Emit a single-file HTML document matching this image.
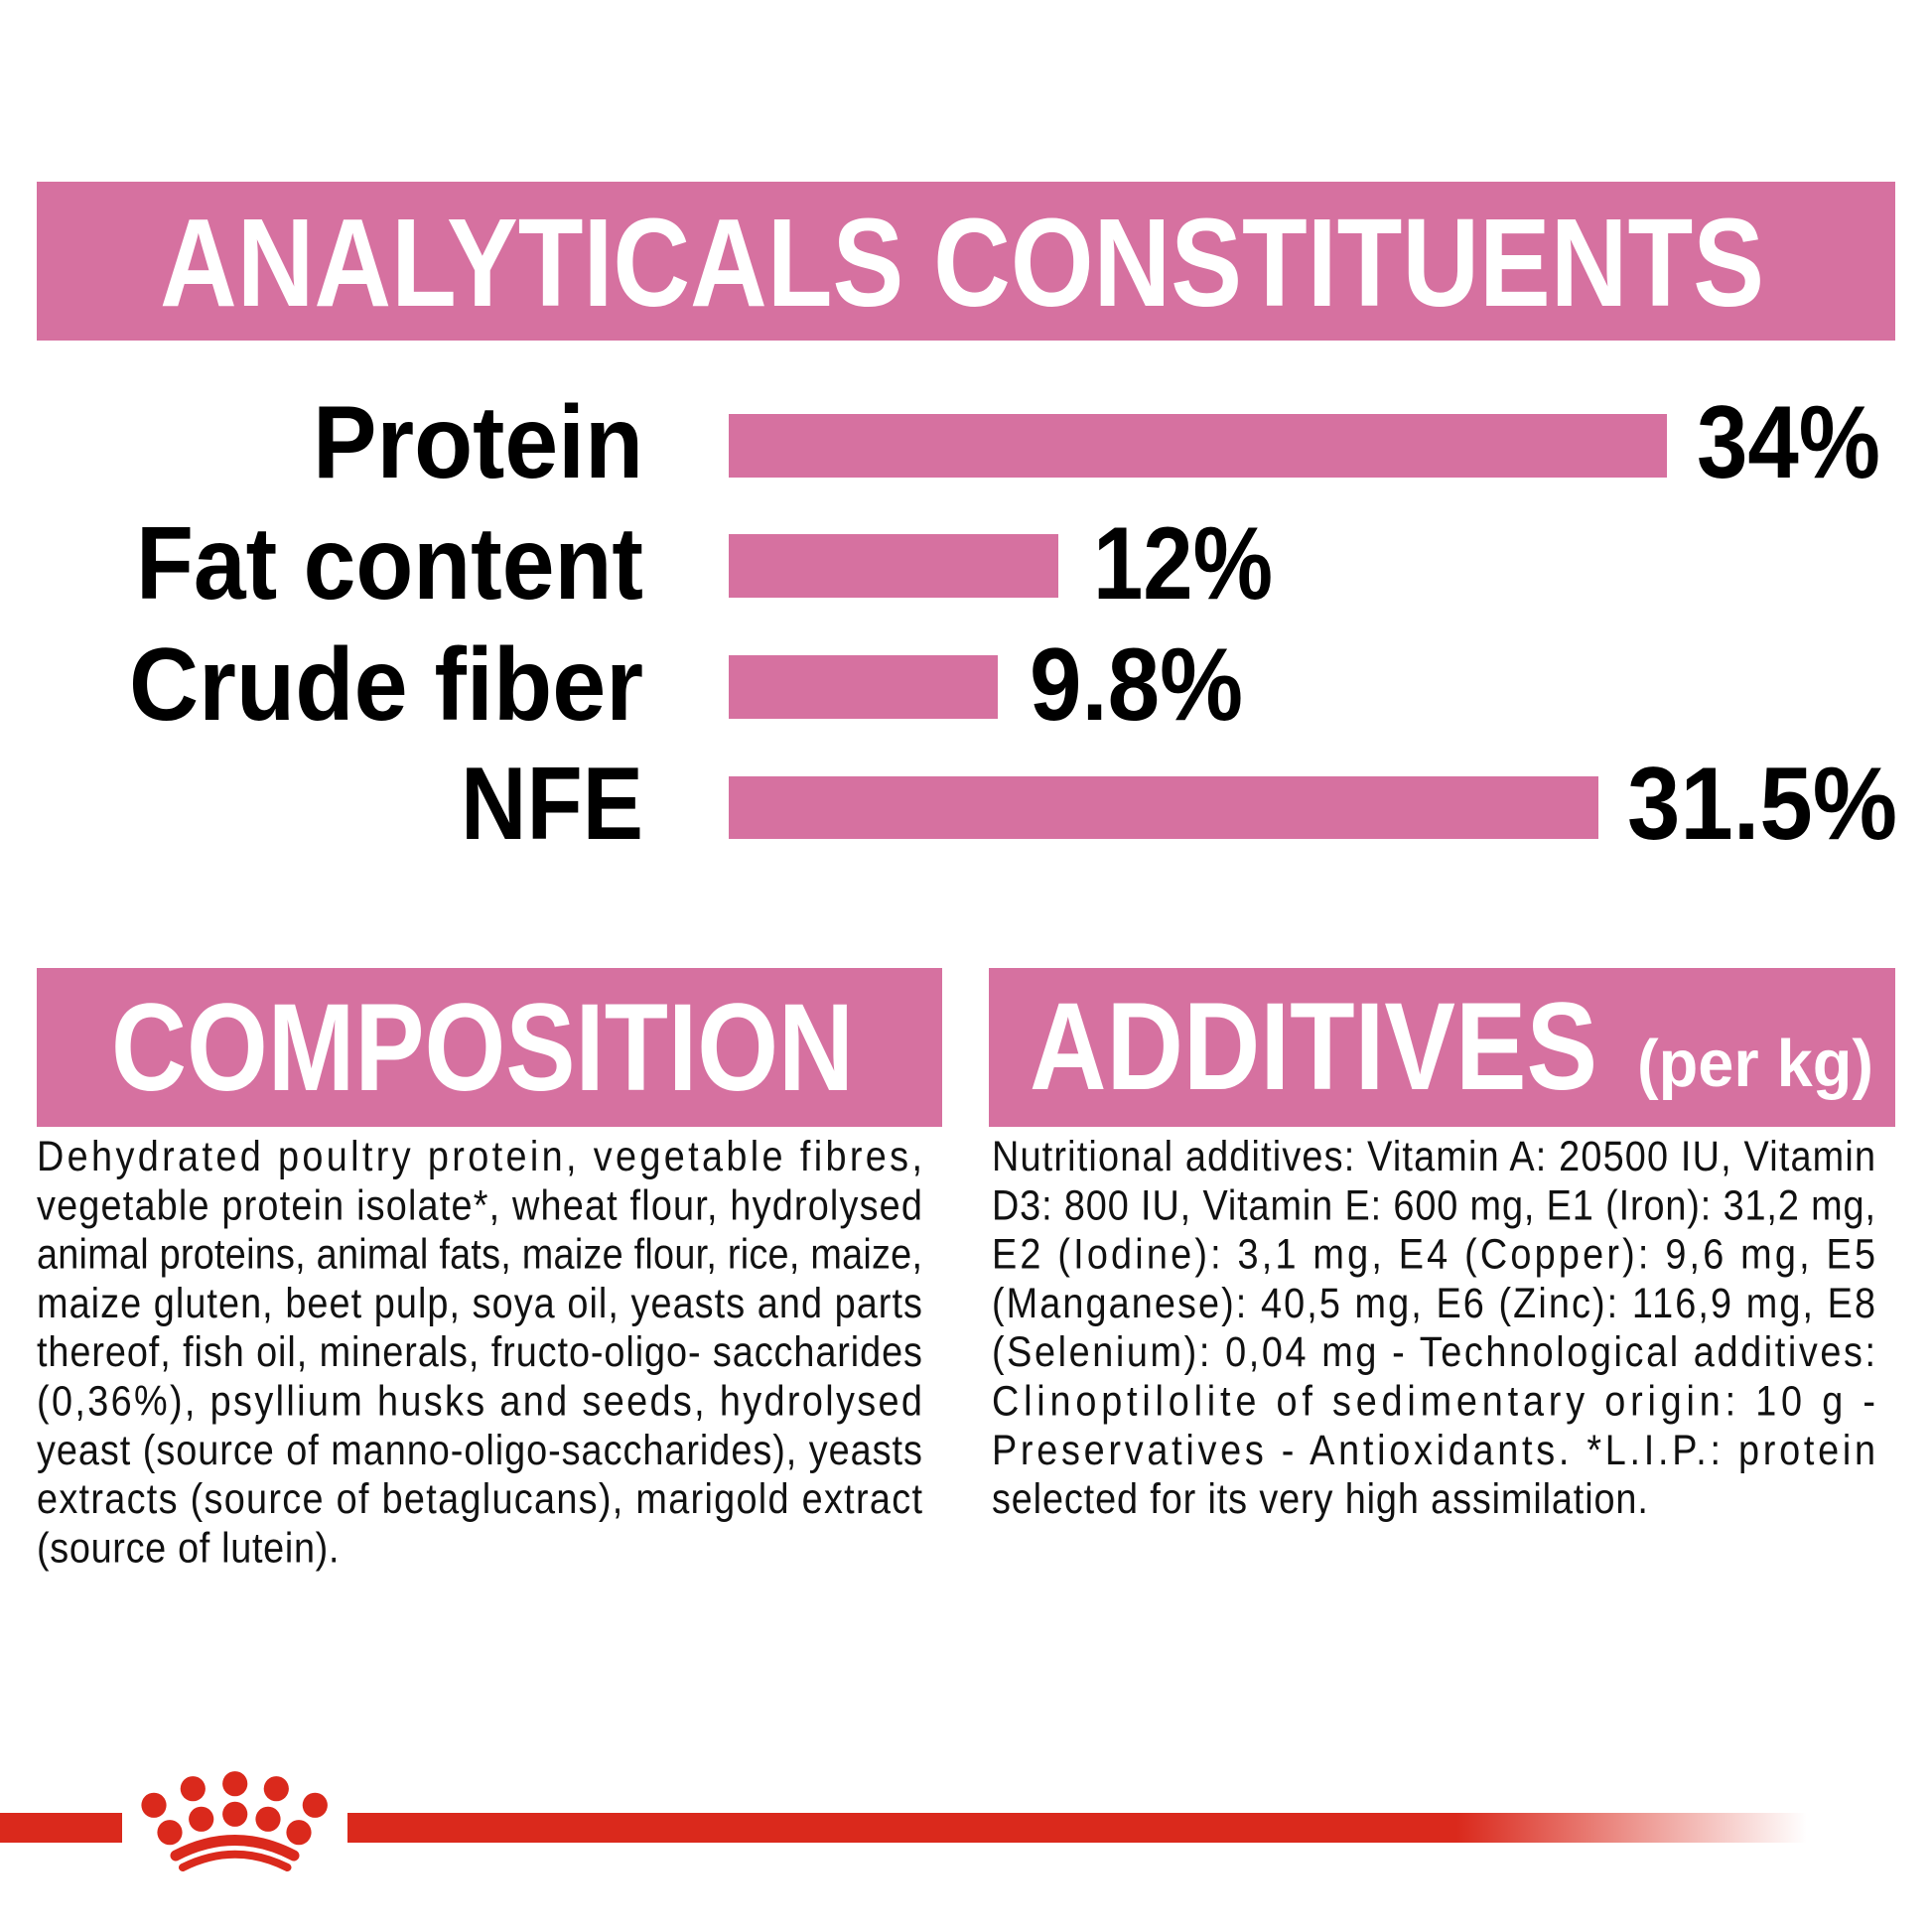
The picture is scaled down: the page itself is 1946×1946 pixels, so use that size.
<!DOCTYPE html>
<html>
<head>
<meta charset="utf-8">
<style>
  html, body { margin: 0; padding: 0; background: #ffffff; }
  body { width: 1946px; height: 1946px; overflow: hidden; }
  svg { display: block; }
  text { font-family: "Liberation Sans", "DejaVu Sans", sans-serif; }
</style>
</head>
<body>
<svg width="1946" height="1946" viewBox="0 0 1946 1946" xmlns="http://www.w3.org/2000/svg">
  <defs>
    <linearGradient id="fade" gradientUnits="userSpaceOnUse" x1="350" y1="0" x2="1820" y2="0">
      <stop offset="0" stop-color="#da291c" stop-opacity="1"/>
      <stop offset="0.76" stop-color="#da291c" stop-opacity="1"/>
      <stop offset="1" stop-color="#da291c" stop-opacity="0"/>
    </linearGradient>
  </defs>
  <rect x="0" y="0" width="1946" height="1946" fill="#ffffff"/>

  <!-- Main header -->
  <rect x="37" y="183" width="1872" height="160" fill="#d671a0"/>
  <text x="161" y="308" font-weight="700" font-size="126" fill="#ffffff" textLength="1616" lengthAdjust="spacingAndGlyphs">ANALYTICALS CONSTITUENTS</text>

  <!-- Labels -->
  <g font-weight="700" font-size="104" fill="#000000">
    <text x="315" y="481" textLength="333" lengthAdjust="spacingAndGlyphs">Protein</text>
    <text x="137" y="603" textLength="511" lengthAdjust="spacingAndGlyphs">Fat content</text>
    <text x="130" y="725" textLength="518" lengthAdjust="spacingAndGlyphs">Crude fiber</text>
    <text x="464" y="845" textLength="184" lengthAdjust="spacingAndGlyphs">NFE</text>
  </g>

  <!-- Bars -->
  <g fill="#d671a0">
    <rect x="734" y="417" width="945" height="64"/>
    <rect x="734" y="538" width="332" height="64"/>
    <rect x="734" y="660" width="271" height="64"/>
    <rect x="734" y="782" width="876" height="63"/>
  </g>

  <!-- Values -->
  <g font-weight="700" font-size="104" fill="#000000">
    <text x="1709" y="481" textLength="185" lengthAdjust="spacingAndGlyphs">34%</text>
    <text x="1101" y="603" textLength="181" lengthAdjust="spacingAndGlyphs">12%</text>
    <text x="1037" y="725" textLength="215" lengthAdjust="spacingAndGlyphs">9.8%</text>
    <text x="1639" y="845" textLength="272" lengthAdjust="spacingAndGlyphs">31.5%</text>
  </g>

  <!-- Section headers -->
  <rect x="37" y="975" width="912" height="160" fill="#d671a0"/>
  <rect x="996" y="975" width="913" height="160" fill="#d671a0"/>
  <text x="112" y="1098" font-weight="700" font-size="125" fill="#ffffff" textLength="748" lengthAdjust="spacingAndGlyphs">COMPOSITION</text>
  <text x="1037" y="1097" font-weight="700" font-size="125" fill="#ffffff" textLength="572" lengthAdjust="spacingAndGlyphs">ADDITIVES</text>
  <text x="1649" y="1094" font-weight="700" font-size="67" fill="#ffffff" textLength="238" lengthAdjust="spacingAndGlyphs">(per kg)</text>

  <!-- Body text -->
  <g transform="scale(0.88,1)" font-size="43" fill="#111111">
    <text x="42.05" y="1179" textLength="1013.6" lengthAdjust="spacing">Dehydrated poultry protein, vegetable fibres,</text>
    <text x="42.05" y="1228.3" textLength="1013.6" lengthAdjust="spacing">vegetable protein isolate*, wheat flour, hydrolysed</text>
    <text x="42.05" y="1277.6" textLength="1013.6" lengthAdjust="spacing">animal proteins, animal fats, maize flour, rice, maize,</text>
    <text x="42.05" y="1326.9" textLength="1013.6" lengthAdjust="spacing">maize gluten, beet pulp, soya oil, yeasts and parts</text>
    <text x="42.05" y="1376.2" textLength="1013.6" lengthAdjust="spacing">thereof, fish oil, minerals, fructo-oligo- saccharides</text>
    <text x="42.05" y="1425.5" textLength="1013.6" lengthAdjust="spacing">(0,36%), psyllium husks and seeds, hydrolysed</text>
    <text x="42.05" y="1474.8" textLength="1013.6" lengthAdjust="spacing">yeast (source of manno-oligo-saccharides), yeasts</text>
    <text x="42.05" y="1524.1" textLength="1013.6" lengthAdjust="spacing">extracts (source of betaglucans), marigold extract</text>
    <text x="42.05" y="1573.4" textLength="346" lengthAdjust="spacing">(source of lutein).</text>

    <text x="1135.2" y="1179" textLength="1011.4" lengthAdjust="spacing">Nutritional additives: Vitamin A: 20500 IU, Vitamin</text>
    <text x="1135.2" y="1228.3" textLength="1011.4" lengthAdjust="spacing">D3: 800 IU, Vitamin E: 600 mg, E1 (Iron): 31,2 mg,</text>
    <text x="1135.2" y="1277.6" textLength="1011.4" lengthAdjust="spacing">E2 (Iodine): 3,1 mg, E4 (Copper): 9,6 mg, E5</text>
    <text x="1135.2" y="1326.9" textLength="1011.4" lengthAdjust="spacing">(Manganese): 40,5 mg, E6 (Zinc): 116,9 mg, E8</text>
    <text x="1135.2" y="1376.2" textLength="1011.4" lengthAdjust="spacing">(Selenium): 0,04 mg - Technological additives:</text>
    <text x="1135.2" y="1425.5" textLength="1011.4" lengthAdjust="spacing">Clinoptilolite of sedimentary origin: 10 g -</text>
    <text x="1135.2" y="1474.8" textLength="1011.4" lengthAdjust="spacing">Preservatives - Antioxidants. *L.I.P.: protein</text>
    <text x="1135.2" y="1524.1" textLength="751" lengthAdjust="spacing">selected for its very high assimilation.</text>
  </g>

  <!-- Footer band -->
  <rect x="0" y="1826" width="123" height="30" fill="#da291c"/>
  <rect x="350" y="1826" width="1470" height="30" fill="url(#fade)"/>

  <!-- Crown logo -->
  <g fill="#da291c">
    <circle cx="236.7" cy="1796.7" r="12.6"/>
    <circle cx="194.3" cy="1801.7" r="12.6"/>
    <circle cx="278.3" cy="1801.7" r="12.6"/>
    <circle cx="155" cy="1818.3" r="12.6"/>
    <circle cx="317.3" cy="1818.3" r="12.6"/>
    <circle cx="236.7" cy="1827.3" r="12.6"/>
    <circle cx="202.7" cy="1832.3" r="12.6"/>
    <circle cx="270" cy="1832.3" r="12.6"/>
    <circle cx="171" cy="1845.7" r="12.6"/>
    <circle cx="301" cy="1845.7" r="12.6"/>
  </g>
  <path d="M177 1869 Q236.7 1838 296 1869" fill="none" stroke="#da291c" stroke-width="11" stroke-linecap="round"/>
  <path d="M184 1881 Q236.7 1854.5 289.5 1881" fill="none" stroke="#da291c" stroke-width="8" stroke-linecap="round"/>
</svg>
</body>
</html>
